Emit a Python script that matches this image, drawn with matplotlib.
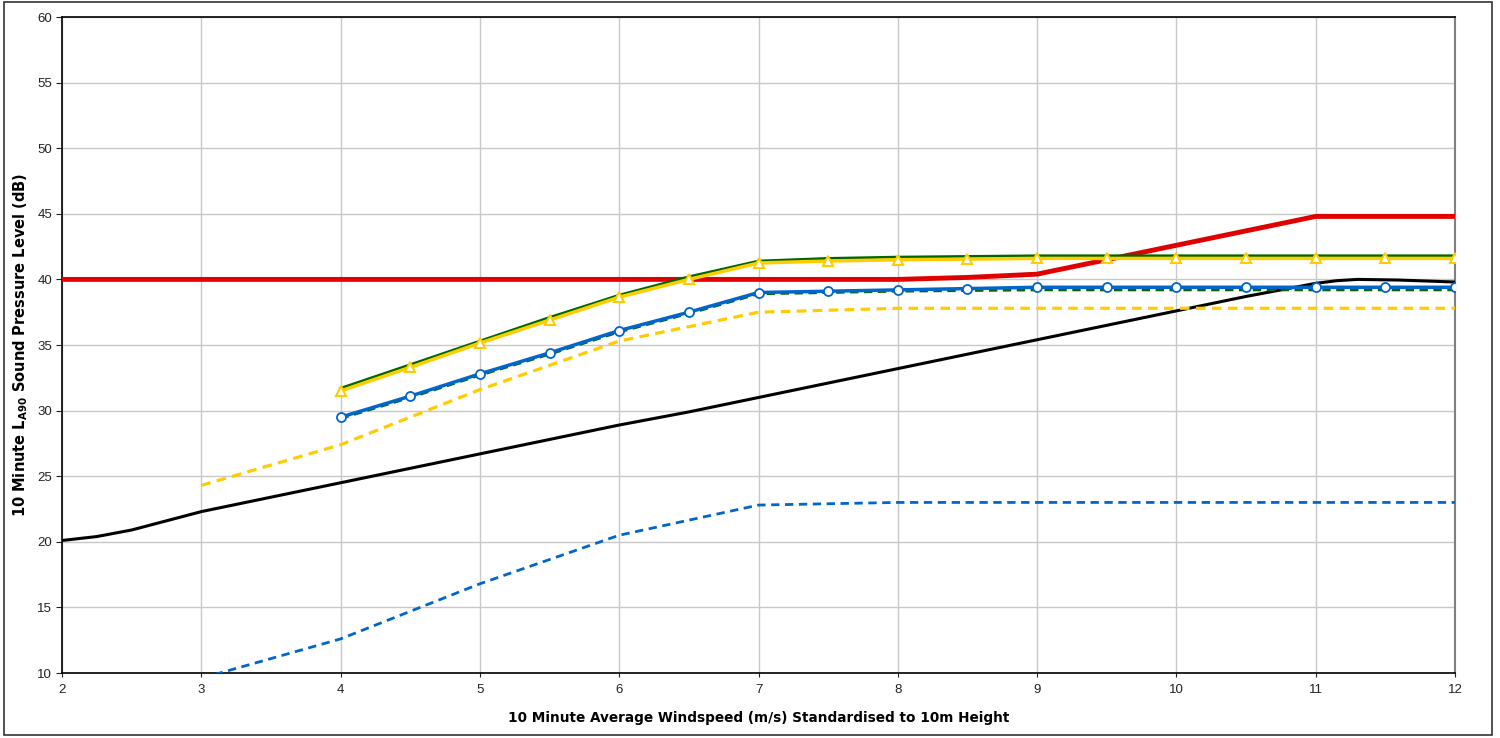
import matplotlib
matplotlib.use("Agg")
import matplotlib.pyplot as plt
from matplotlib.patches import Rectangle

# ---- data ----
red_x = [2, 3, 4, 5, 6, 7, 8, 8.5, 9, 10, 11, 12]
red_y = [40, 40, 40, 40, 40, 40, 40, 40.15, 40.4, 42.6, 44.8, 44.8]

black_x = [2, 2.25, 2.5, 2.75, 3, 3.5, 4, 4.5, 5, 5.5, 6, 6.5, 7, 7.5, 8, 8.5, 9, 9.5, 10, 10.5,
           11, 11.15, 11.3, 11.6, 12]
black_y = [20.1, 20.4, 20.9, 21.6, 22.3, 23.4, 24.5, 25.6, 26.7, 27.8, 28.9, 29.9, 31.0, 32.1,
           33.2, 34.3, 35.4, 36.5, 37.6, 38.7, 39.7, 39.9, 40.0, 39.95, 39.8]

ws = [4, 4.5, 5, 5.5, 6, 6.5, 7, 7.5, 8, 8.5, 9, 9.5, 10, 10.5, 11, 11.5, 12]
green_solid = [31.7, 33.5, 35.3, 37.1, 38.8, 40.2, 41.4, 41.6, 41.7, 41.75, 41.8, 41.8, 41.8, 41.8, 41.8, 41.8, 41.8]
yellow_tri = [31.5, 33.3, 35.15, 36.9, 38.65, 40.0, 41.25, 41.4, 41.5, 41.55, 41.6, 41.6, 41.6, 41.6, 41.6, 41.6, 41.6]
blue_circ = [29.5, 31.1, 32.8, 34.4, 36.1, 37.5, 39.0, 39.1, 39.2, 39.3, 39.4, 39.4, 39.4, 39.4, 39.4, 39.4, 39.4]
green_dash = [29.4, 31.0, 32.7, 34.3, 36.0, 37.4, 38.9, 39.0, 39.1, 39.15, 39.2, 39.2, 39.2, 39.2, 39.2, 39.2, 39.2]

ydash_x = [3, 4, 5, 6, 7, 8, 9, 10, 11, 12]
ydash_y = [24.3, 27.4, 31.6, 35.3, 37.5, 37.8, 37.8, 37.8, 37.8, 37.8]

bdash_x = [3, 4, 5, 6, 7, 8, 9, 10, 11, 12]
bdash_y = [9.6, 12.6, 16.8, 20.5, 22.8, 23.0, 23.0, 23.0, 23.0, 23.0]

xticks = list(range(2, 13))
yticks = list(range(10, 61, 5))

# ---- figure ----
fig = plt.figure(figsize=(15, 7.38), dpi=100)
ax = fig.add_axes([62/1500, 1-673/738, (1455-62)/1500, (673-17)/738])

fig.patches.append(Rectangle((4/1500, 1-735/738), (1492-4)/1500, (735-2)/738,
                             transform=fig.transFigure, fill=False, edgecolor='#333333', lw=1.2))

ax.set_xlim(2, 12)
ax.set_ylim(10, 60)
ax.set_xticks(xticks)
ax.set_yticks(yticks)
ax.grid(True, color='#c8c8c8', lw=1.0)
ax.set_axisbelow(True)

for s in ['top', 'left', 'bottom']:
    ax.spines[s].set_color('black')
    ax.spines[s].set_linewidth(1.2)
ax.spines['right'].set_color('#808080')
ax.spines['right'].set_linewidth(1.5)

ax.tick_params(axis='y', length=4, width=0.8, labelsize=9.5, pad=3, colors='#222222')
ax.tick_params(axis='x', length=3, width=0.8, labelsize=9.5, pad=5, colors='#222222')
for lab in ax.get_xticklabels() + ax.get_yticklabels():
    lab.set_fontfamily('Liberation Sans')

ax.plot(black_x, black_y, color='black', lw=2.2, zorder=3)
ax.plot(red_x, red_y, color='#e00000', lw=3.5, zorder=4)
ax.plot(ydash_x, ydash_y, color='#ffcc00', lw=2.3, ls=(0, (3, 2)), zorder=4)
ax.plot(bdash_x, bdash_y, color='#0066cc', lw=2.0, ls=(0, (3, 2)), zorder=4)
ax.plot(ws, green_dash, color='#006600', lw=2.0, ls=(0, (3, 2)), zorder=5)
ax.plot(ws, blue_circ, color='#0066cc', lw=2.5, marker='o', ms=6.5,
        mfc='white', mec='#0066cc', mew=1.3, zorder=6)
ax.plot(ws, green_solid, color='#006600', lw=2.0, zorder=5)
ax.plot(ws, yellow_tri, color='#ffcc00', lw=2.5, marker='^', ms=7,
        mfc='white', mec='#ffcc00', mew=1.5, zorder=6)

ax.set_xlabel('10 Minute Average Windspeed (m/s) Standardised to 10m Height',
              fontsize=9.8, fontweight='bold', family='DejaVu Sans', labelpad=11)
ax.set_ylabel(r'10 Minute L$_\mathregular{A90}$ Sound Pressure Level (dB)',
              fontsize=10.5, fontweight='bold', family='DejaVu Sans', labelpad=5)

fig.savefig('out.png', dpi=100)
